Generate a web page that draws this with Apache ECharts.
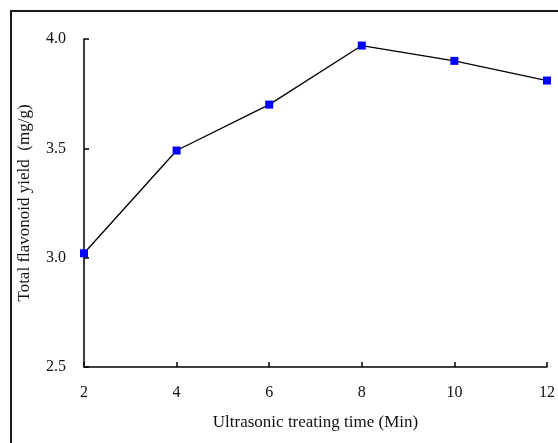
<!DOCTYPE html>
<html>
<head>
<meta charset="utf-8">
<script src="https://cdn.jsdelivr.net/npm/echarts@6/dist/echarts.min.js"></script>
<style>
  html, body { margin: 0; padding: 0; background: #fff; }
  #main { width: 558px; height: 443px; }
</style>
</head>
<body>
<div id="main"></div>
<script>
// data
var times = [2, 4, 6, 8, 10, 12];
var yields = [3.02, 3.49, 3.70, 3.97, 3.90, 3.81];
var yTicks = [2.5, 3.0, 3.5, 4.0];

var chart = echarts.init(document.getElementById('main'));

var font = 'Liberation Serif, Times New Roman, serif';

var option = {
  backgroundColor: '#fff',
  animation: false,
  // frame round the whole figure
  graphic: [{
    type: 'rect',
    shape: { x: 11, y: 11, width: 600, height: 500 },
    style: { fill: 'none', stroke: '#1a1a1a', lineWidth: 2 }
  }],
  grid: { left: 84, right: 11, top: 39, bottom: 76 },
  xAxis: {
    type: 'value',
    min: 2, max: 12, interval: 2,
    name: 'Ultrasonic treating time (Min)',
    nameLocation: 'middle',
    nameGap: 47,
    nameTextStyle: { fontFamily: font, fontSize: 17, color: '#111' },
    axisLine: { lineStyle: { color: '#000', width: 1.5 } },
    axisTick: { inside: true, length: 5, lineStyle: { color: '#000', width: 1.5 } },
    axisLabel: { fontFamily: font, fontSize: 16, color: '#111', margin: 18 },
    splitLine: { show: false }
  },
  yAxis: {
    type: 'value',
    min: yTicks[0], max: yTicks[yTicks.length - 1], interval: 0.5,
    name: 'Total flavonoid yield  (mg/g)',
    nameLocation: 'middle',
    nameGap: 51,
    nameTextStyle: { fontFamily: font, fontSize: 17, color: '#111' },
    axisLine: { show: true, lineStyle: { color: '#000', width: 1.5 } },
    axisTick: { show: true, inside: true, length: 5, lineStyle: { color: '#000', width: 1.5 } },
    axisLabel: {
      fontFamily: font, fontSize: 16, color: '#111', margin: 18,
      formatter: function (v) { return v.toFixed(1); }
    },
    splitLine: { show: false }
  },
  series: [{
    type: 'line',
    data: times.map(function (t, i) { return [t, yields[i]]; }),
    symbol: 'rect',
    symbolSize: 8,
    itemStyle: { color: '#0000ff' },
    lineStyle: { color: '#000', width: 1.3 }
  }]
};

chart.setOption(option);
</script>
</body>
</html>
